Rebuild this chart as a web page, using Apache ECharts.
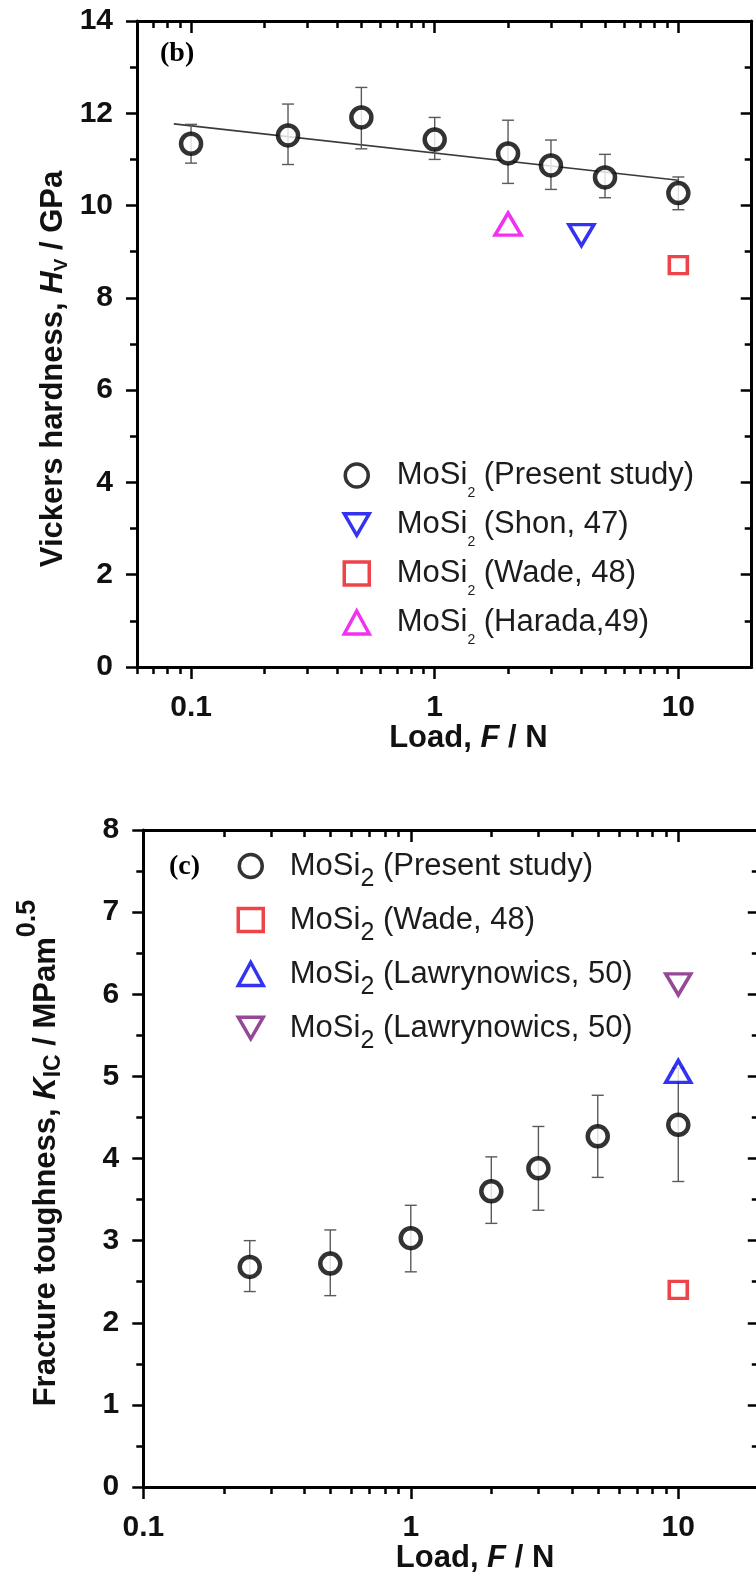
<!DOCTYPE html>
<html>
<head>
<meta charset="utf-8">
<script src="https://cdn.jsdelivr.net/npm/echarts@6/dist/echarts.min.js"></script>
<style>
  html, body { margin: 0; padding: 0; background: #ffffff; }
  #chart { width: 756px; height: 1572px; }
</style>
</head>
<body>
<div id="chart"></div>
<script>
// ---- Panel (b): Vickers hardness of MoSi2 vs. indentation load ----
const hvLoads = [0.1, 0.25, 0.5, 1, 2, 3, 5, 10];
const hvMean  = [11.34, 11.52, 11.91, 11.43, 11.13, 10.87, 10.61, 10.27];
const hvLow   = [10.92, 10.89, 11.23, 11.00, 10.48, 10.35, 10.17, 9.91];
const hvHigh  = [11.76, 12.20, 12.56, 11.91, 11.85, 11.42, 11.11, 10.62];
const hvFitLoads  = [0.085, 10];
const hvFitValues = [11.77, 10.55];
const hvShon   = [[4, 9.36]];
const hvWade   = [[10, 8.71]];
const hvHarada = [[2, 9.6]];

// ---- Panel (c): fracture toughness of MoSi2 vs. indentation load ----
const kicLoads = [0.25, 0.5, 1, 2, 3, 5, 10];
const kicMean  = [2.68, 2.72, 3.03, 3.60, 3.88, 4.27, 4.41];
const kicLow   = [2.38, 2.33, 2.62, 3.21, 3.37, 3.77, 3.72];
const kicHigh  = [3.00, 3.13, 3.43, 4.02, 4.39, 4.77, 5.10];
const kicWade    = [[10, 2.4]];
const kicLawUp   = [[10, 5.06]];
const kicLawDown = [[10, 6.12]];

// ---- Tick positions ----
const loadMajorTicks = [0.1, 1, 10];
const hvLoadMinorTicks  = [0.06, 0.07, 0.08, 0.09, 0.2, 0.3, 0.4, 0.5, 0.6, 0.7, 0.8, 0.9, 2, 3, 4, 5, 6, 7, 8, 9];
const kicLoadMinorTicks = [0.2, 0.3, 0.4, 0.5, 0.6, 0.7, 0.8, 0.9, 2, 3, 4, 5, 6, 7, 8, 9];
const hvMajorTicks  = [0, 2, 4, 6, 8, 10, 12, 14];
const hvMinorTicks  = [1, 3, 5, 7, 9, 11, 13];
const kicMajorTicks = [0, 1, 2, 3, 4, 5, 6, 7, 8];
const kicMinorTicks = [0.5, 1.5, 2.5, 3.5, 4.5, 5.5, 6.5, 7.5];

// ---- Legend texts ----
const hvLegendNames  = ['hvPresent', 'hvShon', 'hvWade', 'hvHarada'];
const hvLegendNotes  = [' (Present study)', ' (Shon, 47)', ' (Wade, 48)', ' (Harada,49)'];
const kicLegendNames = ['kicPresent', 'kicWade', 'kicLawUp', 'kicLawDown'];
const kicLegendNotes = [' (Present study)', ' (Wade, 48)', ' (Lawrynowics, 50)', ' (Lawrynowics, 50)'];

const SANS = "'Liberation Sans', Arial, Helvetica, sans-serif";
const SERIF = "'Liberation Serif', 'Times New Roman', serif";
const INK = '#111111';
const DOWN_TRIANGLE = 'path://M0,0L20,0L10,17.3Z';

const pairs = (xs, ys) => xs.map((x, i) => [x, ys[i]]);
const bars = (xs, lo, hi) => xs.map((x, i) => [x, lo[i], hi[i]]);

// Vertical error bar with caps, positioned through the axes' own scales
function errorBarItem(params, api) {
  const x = api.value(0);
  const pLo = api.coord([x, api.value(1)]);
  const pHi = api.coord([x, api.value(2)]);
  const cap = 6;
  const st = { stroke: '#5a5a5a', lineWidth: 1.4 };
  return {
    type: 'group',
    children: [
      { type: 'line', shape: { x1: pLo[0], y1: pLo[1], x2: pHi[0], y2: pHi[1] }, style: st },
      { type: 'line', shape: { x1: pHi[0] - cap, y1: pHi[1], x2: pHi[0] + cap, y2: pHi[1] }, style: st },
      { type: 'line', shape: { x1: pLo[0] - cap, y1: pLo[1], x2: pLo[0] + cap, y2: pLo[1] }, style: st }
    ]
  };
}

const axisLineStyle = { color: '#000', width: 3 };
const tickLineStyle = { color: '#000', width: 2.5 };

const titleRichBase = {
  b: { fontFamily: SANS, fontWeight: 'bold', fontSize: 31, lineHeight: 36, color: INK },
  i: { fontFamily: SANS, fontWeight: 'bold', fontStyle: 'italic', fontSize: 31, lineHeight: 36, color: INK }
};

// Four log axes per panel: bottom majors (labelled), bottom minors, top majors, top minors
function loadAxes(gridIndex, min, max, minors) {
  const common = {
    type: 'log', logBase: 10, min: min, max: max, gridIndex: gridIndex,
    splitLine: { show: false }, minorTick: { show: false }, minorSplitLine: { show: false }
  };
  return [
    Object.assign({}, common, {
      position: 'bottom',
      axisLine: { show: true, onZero: false, lineStyle: axisLineStyle },
      axisTick: { show: true, customValues: loadMajorTicks, length: 12, lineStyle: tickLineStyle },
      axisLabel: {
        show: true, customValues: loadMajorTicks, margin: 26,
        fontFamily: SANS, fontWeight: 'bold', fontSize: 30, color: INK,
        formatter: v => String(v)
      },
      name: '{b|Load, }{i|F}{b| / N}',
      nameLocation: 'middle', nameGap: 53, nameMoveOverlap: false,
      nameTextStyle: { padding: [0, 0, 0, 48], rich: titleRichBase }
    }),
    Object.assign({}, common, {
      position: 'bottom',
      axisLine: { show: false, onZero: false },
      axisTick: { show: true, customValues: minors, length: 7, lineStyle: tickLineStyle },
      axisLabel: { show: false }
    }),
    Object.assign({}, common, {
      position: 'top',
      axisLine: { show: true, onZero: false, lineStyle: axisLineStyle },
      axisTick: { show: true, inside: true, customValues: loadMajorTicks, length: 12, lineStyle: tickLineStyle },
      axisLabel: { show: false }
    }),
    Object.assign({}, common, {
      position: 'top',
      axisLine: { show: false, onZero: false },
      axisTick: { show: true, inside: true, customValues: minors, length: 7, lineStyle: tickLineStyle },
      axisLabel: { show: false }
    })
  ];
}

// Four value axes per panel: left majors (labelled), left minors, right majors, right minors
function valueAxes(gridIndex, max, majors, minors, name, nameGap, namePadding, rich) {
  const common = {
    type: 'value', min: 0, max: max, gridIndex: gridIndex,
    splitLine: { show: false }, minorTick: { show: false }, minorSplitLine: { show: false }
  };
  return [
    Object.assign({}, common, {
      position: 'left',
      axisLine: { show: true, onZero: false, lineStyle: axisLineStyle },
      axisTick: { show: true, customValues: majors, length: 11, lineStyle: tickLineStyle },
      axisLabel: {
        show: true, customValues: majors, margin: 24,
        fontFamily: SANS, fontWeight: 'bold', fontSize: 30, color: INK
      },
      name: name, nameLocation: 'middle', nameRotate: 90, nameGap: nameGap, nameMoveOverlap: false,
      nameTextStyle: { padding: namePadding, rich: rich }
    }),
    Object.assign({}, common, {
      position: 'left',
      axisLine: { show: false, onZero: false },
      axisTick: { show: true, customValues: minors, length: 7, lineStyle: tickLineStyle },
      axisLabel: { show: false }
    }),
    Object.assign({}, common, {
      position: 'right',
      axisLine: { show: true, onZero: false, lineStyle: axisLineStyle },
      axisTick: { show: true, inside: true, customValues: majors, length: 11, lineStyle: tickLineStyle },
      axisLabel: { show: false }
    }),
    Object.assign({}, common, {
      position: 'right',
      axisLine: { show: false, onZero: false },
      axisTick: { show: true, inside: true, customValues: minors, length: 7, lineStyle: tickLineStyle },
      axisLabel: { show: false }
    })
  ];
}

const hvRich = Object.assign({}, titleRichBase, {
  s: { fontFamily: SANS, fontWeight: 'bold', fontSize: 19, lineHeight: 19, padding: [17, 0, 0, 0], color: INK }
});
const kicRich = Object.assign({}, titleRichBase, {
  s: { fontFamily: SANS, fontWeight: 'bold', fontSize: 23, lineHeight: 23, padding: [14, 0, 0, 0], color: INK },
  p: { fontFamily: SANS, fontWeight: 'bold', fontSize: 27, lineHeight: 27, padding: [0, 0, 38, 0], color: INK }
});

// Legend: small fixed-size icons, text pushed right with padding
function legendFor(names, notes, icons, left, top, gap, textPad, subStyle) {
  return {
    orient: 'vertical', left: left, top: top,
    data: names.map((n, i) => icons[i] ? { name: n, icon: icons[i] } : { name: n }),
    selectedMode: false,
    itemWidth: 25, itemHeight: 23, itemGap: gap,
    itemStyle: { borderWidth: 3.5 },
    formatter: name => '{m|MoSi}{s|2}{m|' + notes[names.indexOf(name)] + '}',
    textStyle: {
      padding: [0, 0, 0, textPad],
      rich: {
        m: { fontFamily: SANS, fontSize: 31, lineHeight: 36, color: '#1c1c1c' },
        s: subStyle
      }
    }
  };
}

function hollow(color, size, border) {
  return { symbolSize: size, itemStyle: { color: '#ffffff', borderColor: color, borderWidth: border } };
}

const chart = echarts.init(document.getElementById('chart'), null, { renderer: 'canvas' });

const option = {
  animation: false,
  backgroundColor: '#ffffff',
  grid: [
    { left: 137, top: 21, width: 614.7, height: 646, outerBoundsMode: 'none', containLabel: false },
    { left: 143.3, top: 830, width: 615.5, height: 657, outerBoundsMode: 'none', containLabel: false }
  ],
  xAxis: [].concat(
    loadAxes(0, 0.06, 20, hvLoadMinorTicks),
    loadAxes(1, 0.1, 20, kicLoadMinorTicks)
  ),
  yAxis: [].concat(
    valueAxes(0, 14, hvMajorTicks, hvMinorTicks,
      '{b|Vickers hardness, }{i|H}{s|V}{b| / GPa}', 66, [0, 50, 0, 0], hvRich),
    valueAxes(1, 8, kicMajorTicks, kicMinorTicks,
      '{b|Fracture toughness, }{i|K}{s|IC}{b| / MPam}{p|0.5}', 79, [0, 0, 0, 11], kicRich)
  ),
  legend: [
    legendFor(hvLegendNames, hvLegendNotes, [null, DOWN_TRIANGLE, null, null], 337.5, 446, 0, 22.5,
      { fontFamily: SANS, fontSize: 14, lineHeight: 14, padding: [35, 0, 0, 0], color: '#1c1c1c' }),
    legendFor(kicLegendNames, kicLegendNotes, [null, null, null, DOWN_TRIANGLE], 231.5, 835, 2, 21.5,
      { fontFamily: SANS, fontSize: 25, lineHeight: 25, padding: [27, 0, 0, 0], color: '#1c1c1c' })
  ],
  graphic: [
    { type: 'text', left: 160, top: 40, style: { text: '(b)', font: 'bold 28px ' + SERIF, fill: '#000' } },
    { type: 'text', left: 169, top: 853, style: { text: '(c)', font: 'bold 28px ' + SERIF, fill: '#000' } }
  ],
  series: [
    // panel (b)
    {
      type: 'line', xAxisIndex: 0, yAxisIndex: 0, data: pairs(hvFitLoads, hvFitValues),
      symbol: 'none', lineStyle: { color: '#3a3a3a', width: 1.6 }, z: 1, silent: true
    },
    {
      type: 'custom', xAxisIndex: 0, yAxisIndex: 0, data: bars(hvLoads, hvLow, hvHigh),
      renderItem: errorBarItem, encode: { x: 0, y: [1, 2] }, z: 2, silent: true
    },
    Object.assign({ name: 'hvPresent', type: 'scatter', xAxisIndex: 0, yAxisIndex: 0,
      data: pairs(hvLoads, hvMean), symbol: 'circle', z: 5 }, hollow('#000000', 20, 4.5)),
    Object.assign({ name: 'hvShon', type: 'scatter', xAxisIndex: 0, yAxisIndex: 0,
      data: hvShon, symbol: 'triangle', symbolRotate: 180, z: 5 }, hollow('#0000ee', [25, 21], 3.5)),
    Object.assign({ name: 'hvWade', type: 'scatter', xAxisIndex: 0, yAxisIndex: 0,
      data: hvWade, symbol: 'rect', z: 5 }, hollow('#e8141c', [18, 17], 3.5)),
    Object.assign({ name: 'hvHarada', type: 'scatter', xAxisIndex: 0, yAxisIndex: 0,
      data: hvHarada, symbol: 'triangle', z: 5 }, hollow('#ee00ee', [26, 22], 3.5)),

    // panel (c)
    {
      type: 'custom', xAxisIndex: 4, yAxisIndex: 4, data: bars(kicLoads, kicLow, kicHigh),
      renderItem: errorBarItem, encode: { x: 0, y: [1, 2] }, z: 2, silent: true
    },
    Object.assign({ name: 'kicPresent', type: 'scatter', xAxisIndex: 4, yAxisIndex: 4,
      data: pairs(kicLoads, kicMean), symbol: 'circle', z: 5 }, hollow('#000000', 20, 4.5)),
    Object.assign({ name: 'kicWade', type: 'scatter', xAxisIndex: 4, yAxisIndex: 4,
      data: kicWade, symbol: 'rect', z: 5 }, hollow('#e8141c', [18, 17], 3.5)),
    Object.assign({ name: 'kicLawUp', type: 'scatter', xAxisIndex: 4, yAxisIndex: 4,
      data: kicLawUp, symbol: 'triangle', z: 5 }, hollow('#0000ee', [25, 22], 3.5)),
    Object.assign({ name: 'kicLawDown', type: 'scatter', xAxisIndex: 4, yAxisIndex: 4,
      data: kicLawDown, symbol: 'triangle', symbolRotate: 180, z: 5 }, hollow('#7a1a7a', [25, 21], 3.5))
  ]
};

chart.setOption(option);
</script>
</body>
</html>
